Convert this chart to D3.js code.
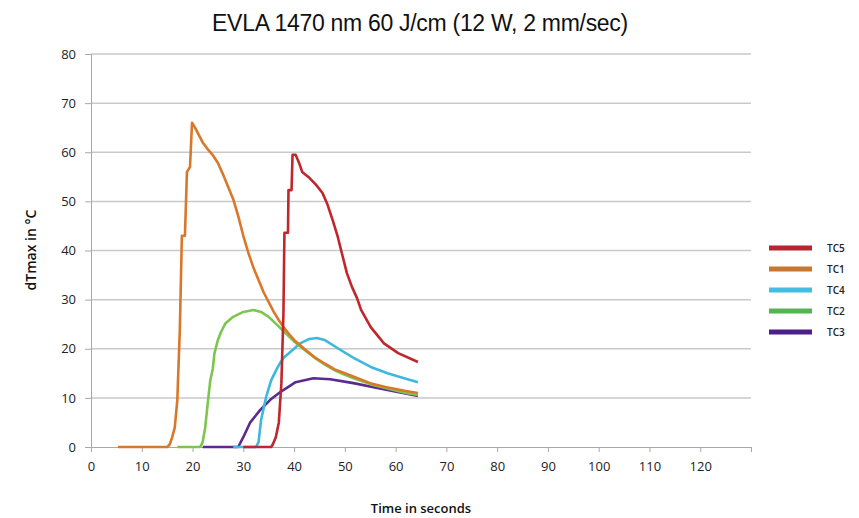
<!DOCTYPE html>
<html>
<head>
<meta charset="utf-8">
<script src="https://cdn.jsdelivr.net/npm/d3@7"></script>
<style>
  body { margin: 0; background: #fff; }
  svg { display: block; }
  .tick text { font-family: "Open Sans", sans-serif; font-size: 13px; fill: #222; }
</style>
</head>
<body>
<svg id="chart"></svg>
<script>
// series: [time in s, dTmax in °C]
const tc5 = [[30,0],[35.5,0],[35.8,0.5],[36.4,2],[37,5],[37.5,13],[37.9,27],[38.1,43.6],[38.8,43.6],[38.9,52.3],
  [39.5,52.3],[39.7,59.5],[40.3,59.5],[41,57.8],[41.6,56],[43,54.8],[44.3,53.4],[45.6,51.7],[46.6,49.3],[47.6,46.2],
  [48.6,42.8],[49.4,39.5],[50.4,35.4],[51.4,32.6],[52.4,30.3],[53.2,27.9],[55.1,24.4],[57.7,21.1],[60.5,19.1],[64.4,17.3]];
const tc1 = [[5.3,0],[15,0],[15.5,0.5],[16,2],[16.5,4],[17,9.5],[17.5,24],[17.9,43],[18.5,43],[18.9,56],[19.5,57],
  [19.9,66],[20.5,65],[21,64],[22,62],[23,60.6],[24,59.4],[25,57.8],[26,55.5],[27,53],[28,50.5],[29,47],[30,43],
  [31,39.5],[32,36.5],[33,34],[34,31.5],[35,29.5],[36,27.5],[37,25.8],[38,24.3],[39,23],[40,21.8],[42,20],[44,18.3],
  [46,17],[48,15.8],[50,15],[52,14.2],[55,13],[58,12.2],[60,11.8],[62,11.4],[64.4,11]];
const tc4 = [[28,0],[32.5,0],[33,1],[33.5,5.5],[34.5,10.2],[35.5,13.6],[36.5,15.7],[37.2,17],[38,18.2],[39.2,19.3],
  [41.2,21.1],[43,22],[44.5,22.2],[46,21.8],[48.6,20.1],[51.8,18.1],[55.1,16.3],[58.4,15],[61.7,14],[64.4,13.2]];
const tc2 = [[17,0],[21.5,0],[22,1],[22.5,4],[23,9],[23.5,13.6],[24,16],[24.3,19],[25,21.8],[25.6,23.4],[26.5,25.2],
  [28,26.5],[30,27.5],[32,27.9],[33.5,27.5],[35,26.5],[36.5,25],[38,23.5],[40,21.5],[42,19.8],[44,18.2],[46,16.8],
  [48,15.6],[50,14.7],[52,13.9],[55,12.8],[58,12],[60,11.5],[62,11],[64.4,10.6]];
const tc3 = [[22,0],[29,0],[30,2],[31.3,4.9],[33.3,7.5],[35.3,9.6],[37.3,11.2],[38.5,12],[40.3,13.2],[43.8,14],
  [47.1,13.8],[51.7,13],[56.4,12],[60.4,11.2],[64.4,10.4]];

const seriesNames = ["TC5", "TC1", "TC4", "TC2", "TC3"];
const seriesData = [tc5, tc1, tc4, tc2, tc3];
const xTicks = [0, 10, 20, 30, 40, 50, 60, 70, 80, 90, 100, 110, 120, 130];
const yTicks = [0, 10, 20, 30, 40, 50, 60, 70, 80];

const colors = { TC5: "#c0262c", TC1: "#d9782b", TC4: "#3cb9dc", TC2: "#7cc64e", TC3: "#5a2a8e" };
const legendColors = { TC5: "#b72530", TC1: "#c8772e", TC4: "#45bde0", TC2: "#55b352", TC3: "#4b1f88" };

const W = 859, H = 518;
const margin = { top: 54, right: 108, bottom: 71, left: 91 };
const width = W - margin.left - margin.right;
const height = H - margin.top - margin.bottom;

const svg = d3.select("#chart").attr("width", W).attr("height", H);
const g = svg.append("g").attr("transform", `translate(${margin.left},${margin.top})`);

const x = d3.scaleLinear().domain([0, 130]).range([0, width]);
const y = d3.scaleLinear().domain([0, 80]).range([height, 0]);

// horizontal gridlines
g.append("g")
  .selectAll("line")
  .data(yTicks.filter(d => d > 0))
  .enter()
  .append("line")
  .attr("x1", 0)
  .attr("x2", width)
  .attr("y1", d => y(d))
  .attr("y2", d => y(d))
  .attr("stroke", "#c9c9c9")
  .attr("stroke-width", 1.5);

const yAxis = g.append("g")
  .call(d3.axisLeft(y).tickValues(yTicks).tickSize(6).tickPadding(9));
yAxis.select(".domain").attr("stroke", "#a8a8a8");
yAxis.selectAll(".tick line").attr("stroke", "#a8a8a8");

const xAxis = g.append("g")
  .attr("transform", `translate(0,${height})`)
  .call(d3.axisBottom(x).tickValues(xTicks).tickSize(5).tickPadding(10)
    .tickFormat(d => d === 130 ? "" : d));
xAxis.select(".domain").attr("stroke", "#a8a8a8");
xAxis.selectAll(".tick line").attr("stroke", "#a8a8a8");

const line = d3.line()
  .x(d => x(d[0]))
  .y(d => y(d[1]));

// draw back to front so TC5 ends on top like the original
const order = [4, 2, 3, 1, 0];
order.forEach(i => {
  g.append("path")
    .datum(seriesData[i])
    .attr("fill", "none")
    .attr("stroke", colors[seriesNames[i]])
    .attr("stroke-width", 2.6)
    .attr("stroke-linejoin", "round")
    .attr("d", line);
});

// legend
const legend = svg.append("g").attr("transform", "translate(769,248)");
const items = legend.selectAll(".legend-item")
  .data(seriesNames)
  .enter()
  .append("g")
  .attr("class", "legend-item")
  .attr("transform", (d, i) => `translate(0,${i * 21})`);

items.append("line")
  .attr("x1", 0)
  .attr("x2", 43)
  .attr("stroke", d => legendColors[d])
  .attr("stroke-width", 5);

items.append("text")
  .attr("x", 58)
  .attr("y", 0)
  .attr("dy", "0.35em")
  .text(d => d)
  .style("font-family", "Open Sans, sans-serif")
  .style("font-size", "10px")
  .style("font-weight", "600")
  .style("fill", "#222");

// titles
svg.append("text")
  .attr("x", 420)
  .attr("y", 31)
  .attr("text-anchor", "middle")
  .text("EVLA 1470 nm 60 J/cm (12 W, 2 mm/sec)")
  .style("font-family", "Liberation Sans, Arial, sans-serif")
  .style("font-size", "23px")
  .style("letter-spacing", "-0.3px")
  .style("fill", "#111");

svg.append("text")
  .attr("x", 421)
  .attr("y", 513)
  .attr("text-anchor", "middle")
  .text("Time in seconds")
  .style("font-family", "Open Sans, sans-serif")
  .style("font-size", "13px")
  .style("font-weight", "600")
  .style("fill", "#111");

svg.append("text")
  .attr("transform", "translate(36,250) rotate(-90)")
  .attr("text-anchor", "middle")
  .text("dTmax in °C")
  .style("font-family", "Open Sans, sans-serif")
  .style("font-size", "14px")
  .style("font-weight", "600")
  .style("fill", "#111");
</script>
</body>
</html>
